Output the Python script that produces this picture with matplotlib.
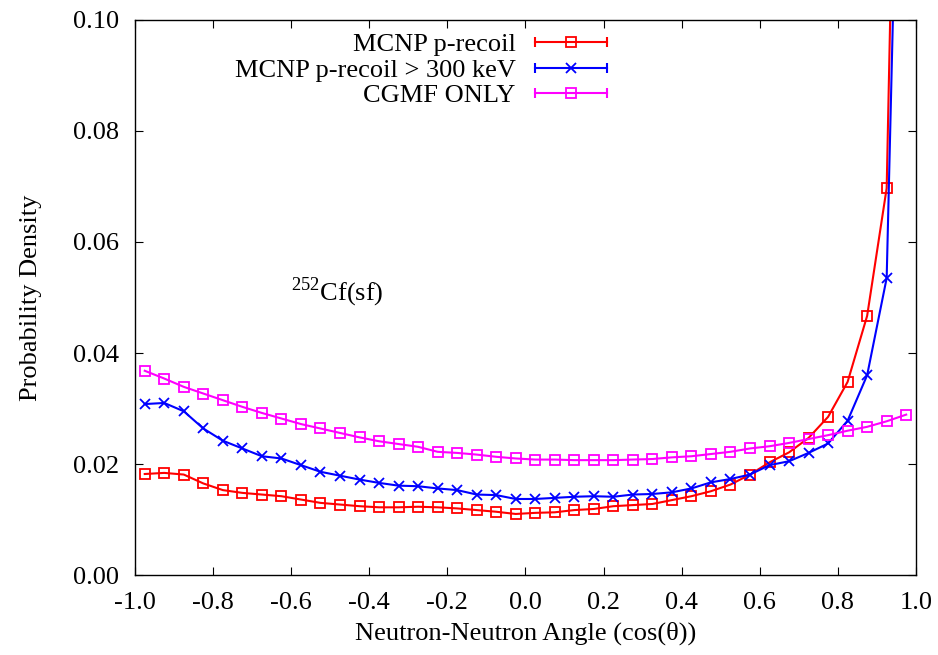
import matplotlib
matplotlib.use('Agg')
import matplotlib.pyplot as plt
from matplotlib.lines import Line2D
from matplotlib.legend_handler import HandlerLine2D
import numpy as np

plt.rcParams['font.family'] = ['Liberation Serif', 'DejaVu Serif']
plt.rcParams['mathtext.fontset'] = 'custom'
plt.rcParams['mathtext.rm'] = 'Liberation Serif'

# bin centres of cos(theta)
cos_theta = np.arange(-0.975, 1.0, 0.05)

mcnp_precoil = [0.0182, 0.0184, 0.0181, 0.0165, 0.0153, 0.0148, 0.0145, 0.0142,
                0.0136, 0.0130, 0.0127, 0.0124, 0.0122, 0.0122, 0.0123, 0.0122,
                0.0120, 0.0117, 0.0114, 0.0110, 0.0112, 0.0113, 0.0117, 0.0119,
                0.0124, 0.0126, 0.0128, 0.0135, 0.0142, 0.0151, 0.0163, 0.0181,
                0.0203, 0.0221, 0.0247, 0.0285, 0.0348, 0.0467, 0.0697, 0.240]

mcnp_precoil_300 = [0.0308, 0.0310, 0.0295, 0.0264, 0.0242, 0.0228, 0.0214, 0.0210,
                    0.0198, 0.0186, 0.0179, 0.0172, 0.0166, 0.0161, 0.0160, 0.0156,
                    0.0153, 0.0145, 0.0144, 0.0137, 0.0137, 0.0139, 0.0141, 0.0142,
                    0.0141, 0.0145, 0.0146, 0.0149, 0.0156, 0.0167, 0.0173, 0.0181,
                    0.0198, 0.0205, 0.0220, 0.0237, 0.0278, 0.0360, 0.0535, 0.200]

cgmf_only = [0.0368, 0.0354, 0.0339, 0.0327, 0.0315, 0.0303, 0.0292, 0.0282,
             0.0272, 0.0264, 0.0256, 0.0248, 0.0241, 0.0236, 0.0231, 0.0222,
             0.0220, 0.0217, 0.0213, 0.0210, 0.0208, 0.0208, 0.0207, 0.0207,
             0.0207, 0.0208, 0.0209, 0.0212, 0.0214, 0.0218, 0.0222, 0.0228,
             0.0232, 0.0238, 0.0245, 0.0252, 0.0260, 0.0267, 0.0277, 0.0289]

labels = ['MCNP p-recoil', 'MCNP p-recoil > 300 keV', 'CGMF ONLY']
colors = ['#ff0000', '#0000ff', '#ff00ff']
markers = ['s', 'x', 's']

xticks = [-1.0, -0.8, -0.6, -0.4, -0.2, 0.0, 0.2, 0.4, 0.6, 0.8, 1.0]
xticklabels = ['-1.0', '-0.8', '-0.6', '-0.4', '-0.2', '0.0', '0.2', '0.4', '0.6', '0.8', '1.0']
yticks = [0.0, 0.02, 0.04, 0.06, 0.08, 0.10]
yticklabels = ['0.00', '0.02', '0.04', '0.06', '0.08', '0.10']

FS = 19

fig = plt.figure(figsize=(9.38, 6.55), dpi=100)
ax = fig.add_axes([0.1439, 0.1221, 0.8326, 0.8474])

series = [mcnp_precoil, mcnp_precoil_300, cgmf_only]
handles = []
hmap = {}
for vals, c, m in zip(series, colors, markers):
    ax.plot(cos_theta, vals, color=c, lw=1.5, marker=m, markersize=7,
            mfc='none', mec=c, mew=1.3)
    # legend sample: horizontal bar with end caps and the point marker
    caps = Line2D([], [], color=c, lw=1.5, marker='|', markersize=7, mew=1.5)
    mk = Line2D([], [], color=c, ls='none', marker=m, markersize=7,
                mfc='none', mew=1.3)
    hmap[caps] = HandlerLine2D(numpoints=2, marker_pad=0)
    hmap[mk] = HandlerLine2D(numpoints=1)
    handles.append((caps, mk))

ax.legend(handles, labels, handler_map=hmap, loc='upper right',
          bbox_to_anchor=(0.604, 0.977), markerfirst=False, frameon=False,
          fontsize=FS, handlelength=2.7, labelspacing=0.08, borderpad=0,
          borderaxespad=0, handletextpad=0.75)

ax.text(-0.6, 0.051, r'$^{252}$Cf(sf)', fontsize=FS, va='center', ha='left')

ax.set_xlim(-1.0, 1.0)
ax.set_ylim(0.0, 0.1)
ax.set_xticks(xticks)
ax.set_xticklabels(xticklabels)
ax.set_yticks(yticks)
ax.set_yticklabels(yticklabels)
ax.tick_params(direction='in', top=True, right=True, length=6, width=0.8,
               labelsize=FS)
ax.tick_params(axis='y', pad=11.5)
ax.tick_params(axis='x', pad=12)
for s in ax.spines.values():
    s.set_linewidth(1.0)

ax.set_xlabel('Neutron-Neutron Angle (cos(θ))', fontsize=FS, labelpad=6)
ax.set_ylabel('Probability Density', fontsize=FS, labelpad=22)

fig.savefig('out.png', dpi=100)
